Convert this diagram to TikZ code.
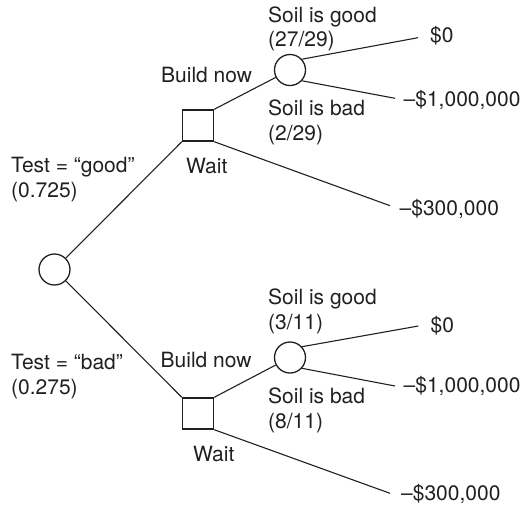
\documentclass[tikz,border=0pt]{standalone}
\usepackage{fontspec}
\setmainfont{TeX Gyre Heros}
\definecolor{ink}{RGB}{35,31,32}
\begin{document}
\begin{tikzpicture}[x=1pt,y=-1pt,
  font=\fontsize{21}{25}\selectfont,
  decision/.style={draw=ink, line width=1.4pt, shape=rectangle, minimum size=31pt, inner sep=0pt},
  chance/.style={draw=ink, line width=1.3pt, shape=circle, minimum size=31pt, inner sep=0pt},
  branch/.style={draw=ink, line width=1.1pt},
  lbl/.style={anchor=base west, inner sep=0pt, text=ink}]
\useasboundingbox (0,0) rectangle (521,507);

% decision and chance nodes
\node[chance]   (root) at (54.5,269.5) {};
\node[decision] (dg)   at (198,125.5) {};
\node[decision] (db)   at (198,413.5) {};
\node[chance]   (cg)   at (290,70) {};
\node[chance]   (cb)   at (290,357.5) {};

% free ends of the outcome branches
\coordinate (g0) at (418,37.7);
\coordinate (g1) at (395,98.3);
\coordinate (gw) at (390,205.7);
\coordinate (b0) at (418.3,326);
\coordinate (b1) at (395,386);
\coordinate (bw) at (390,493.3);

% branches
\draw[branch] (root) -- (dg.south west);
\draw[branch] (root) -- (db.north west);
\draw[branch] (dg.north east) -- (cg);
\draw[branch] (dg.south east) -- (gw);
\draw[branch] (db.north east) -- (cb);
\draw[branch] (db.south east) -- (bw);
\draw[branch] (cg.42) -- (g0);
\draw[branch] (cg.-42) -- (g1);
\draw[branch] (cb.42) -- (b0);
\draw[branch] (cb.-42) -- (b1);

% labels, upper half
\node[lbl] (tg1) at (11,172) {Test = “good”};
\node[lbl] (tg2) at (11,197) {(0.725)};
\node[lbl] (bng) at (161,82) {Build now};
\node[lbl] (wg)  at (186,173) {Wait};
\node[lbl] (sgg1) at (268,22.5) {Soil is good};
\node[lbl] (sgg2) at (268,46.5) {(27/29)};
\node[lbl] (sbg1) at (268,115) {Soil is bad};
\node[lbl] (sbg2) at (268,140) {(2/29)};
\node[lbl] (vg0) at (430,42.5) {\$0};
\node[lbl] (vg1) at (403.5,106) {\textendash\$1,000,000};
\node[lbl] (vgw) at (399.5,215) {\textendash\$300,000};

% labels, lower half
\node[lbl] (tb1) at (11,369) {Test = “bad”};
\node[lbl] (tb2) at (11,394) {(0.275)};
\node[lbl] (bnb) at (160.5,367) {Build now};
\node[lbl] (wb)  at (193,461.5) {Wait};
\node[lbl] (sgb1) at (268,304) {Soil is good};
\node[lbl] (sgb2) at (268,329) {(3/11)};
\node[lbl] (sbb1) at (268,403) {Soil is bad};
\node[lbl] (sbb2) at (268,428) {(8/11)};
\node[lbl] (vb0) at (430.5,332.5) {\$0};
\node[lbl] (vb1) at (403.5,392.5) {\textendash\$1,000,000};
\node[lbl] (vbw) at (401,500.5) {\textendash\$300,000};
\end{tikzpicture}
\end{document}
